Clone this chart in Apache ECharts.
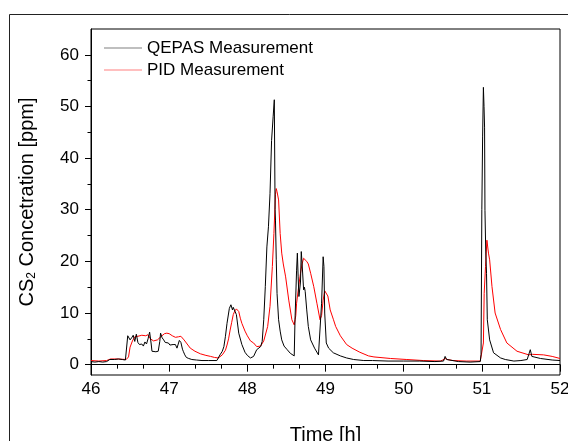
<!DOCTYPE html>
<html>
<head>
<meta charset="utf-8">
<script src="https://cdn.jsdelivr.net/npm/echarts@6/dist/echarts.min.js"></script>
<style>
html,body{margin:0;padding:0;background:#fff;}
#chart{width:568px;height:441px;}
</style>
</head>
<body>
<div id="chart"></div>
<script>
// ---- data ----
var seriesNames = ['QEPAS Measurement', 'PID Measurement'];

var qepasTime = [46.00,46.05,46.10,46.15,46.20,46.24,46.30,46.35,46.40,46.44,46.46,46.47,46.50,46.52,46.54,46.56,46.58,46.60,46.62,46.65,46.67,46.69,46.71,46.73,46.75,46.77,46.78,46.80,46.83,46.86,46.88,46.89,46.91,46.93,46.95,46.97,46.99,47.01,47.03,47.05,47.08,47.10,47.12,47.13,47.15,47.17,47.18,47.20,47.22,47.25,47.29,47.35,47.42,47.50,47.61,47.65,47.68,47.70,47.72,47.74,47.77,47.79,47.81,47.82,47.84,47.86,47.89,47.93,47.97,48.00,48.04,48.06,48.08,48.12,48.14,48.17,48.19,48.21,48.23,48.25,48.27,48.29,48.31,48.33,48.345,48.355,48.36,48.37,48.38,48.40,48.42,48.44,48.47,48.51,48.55,48.57,48.60,48.61,48.63,48.64,48.65,48.66,48.68,48.69,48.70,48.72,48.73,48.74,48.75,48.76,48.78,48.81,48.86,48.91,48.93,48.95,48.97,48.98,48.99,49.01,49.04,49.10,49.19,49.27,49.36,49.49,49.60,49.80,50.00,50.20,50.40,50.51,50.53,50.55,50.70,50.85,50.98,50.99,51.00,51.01,51.02,51.028,51.035,51.04,51.05,51.06,51.07,51.10,51.15,51.24,51.30,51.41,51.50,51.58,51.60,51.62,51.64,51.75,51.90,52.00];
var qepasValue = [0.6,0.5,0.6,0.5,0.6,1.0,1.0,1.1,1.0,0.9,0.8,5.6,4.8,5.2,5.7,4.5,5.9,4.3,3.9,4.0,3.6,4.4,4.0,5.0,6.3,4.0,2.6,2.3,2.5,2.6,4.5,6.1,5.2,4.8,4.3,4.5,4.2,3.8,3.5,3.9,3.9,3.2,3.2,4.7,4.3,3.0,2.6,1.9,1.4,1.2,1.0,0.9,0.8,0.8,0.8,1.9,2.6,3.5,5.5,8.0,10.9,11.6,10.6,11.1,10.8,9.7,6.1,3.9,2.4,1.8,1.3,1.3,1.6,2.9,2.8,3.5,4.5,8.7,15.1,22.8,26.7,33.1,43.4,48.0,51.3,30.0,28.0,20.3,13.8,8.7,6.5,4.8,3.6,2.9,2.2,1.9,1.7,8.7,18.3,21.6,17.0,13.2,16.0,21.9,19.7,14.5,15.0,14.2,13.9,10.6,7.4,4.8,3.2,1.9,1.6,11.9,20.9,19.0,10.0,4.2,3.2,2.3,1.7,1.3,1.0,0.8,0.8,0.7,0.7,0.7,0.6,0.7,1.6,1.0,0.6,0.5,0.6,2.0,30.0,44.1,53.7,50.0,46.0,29.9,22.0,17.7,8.7,4.8,2.3,1.3,1.0,0.7,0.8,1.0,1.3,2.9,1.6,1.2,0.9,0.8];

var pidTime = [46.00,46.10,46.20,46.25,46.35,46.45,46.48,46.50,46.53,46.56,46.60,46.65,46.70,46.73,46.76,46.80,46.85,46.90,46.94,46.97,47.00,47.04,47.08,47.12,47.15,47.19,47.23,47.27,47.33,47.40,47.47,47.53,47.58,47.63,47.68,47.72,47.74,47.76,47.78,47.80,47.82,47.84,47.86,47.89,47.91,47.93,47.97,48.00,48.04,48.08,48.12,48.17,48.21,48.23,48.26,48.29,48.32,48.34,48.36,48.37,48.38,48.40,48.42,48.44,48.46,48.49,48.53,48.57,48.60,48.62,48.63,48.66,48.68,48.70,48.72,48.74,48.76,48.78,48.81,48.85,48.89,48.93,48.95,48.97,48.99,49.00,49.03,49.06,49.10,49.13,49.19,49.27,49.34,49.44,49.55,49.62,49.83,50.04,50.25,50.47,50.50,50.53,50.56,50.63,50.80,50.98,51.00,51.02,51.03,51.047,51.065,51.085,51.10,51.13,51.17,51.24,51.32,51.45,51.60,51.62,51.65,51.79,51.90,52.00];
var pidValue = [0.8,0.7,0.8,1.1,1.1,1.0,1.5,3.4,4.6,5.4,5.5,5.7,5.6,5.8,5.0,4.6,4.8,5.5,6.0,6.1,6.0,5.6,5.3,5.4,5.5,4.8,4.0,3.2,2.6,2.1,1.8,1.6,1.4,1.3,1.9,2.8,3.8,5.0,6.7,8.2,9.7,10.4,10.8,10.3,9.0,8.0,6.5,5.6,4.6,4.2,3.5,3.6,4.6,4.8,7.4,11.3,19.0,25.4,33.0,34.1,33.5,31.9,25.4,21.6,19.5,17.0,12.5,8.7,7.7,9.5,11.9,15.5,17.7,19.5,20.6,20.5,20.0,19.5,17.7,15.1,11.9,8.7,9.5,12.5,14.3,14.5,13.3,10.6,8.8,7.4,5.6,3.9,3.2,2.4,1.7,1.5,1.2,1.0,0.8,0.7,0.9,1.2,1.0,0.8,0.7,0.7,1.0,4.2,13.8,19.0,24.1,21.6,20.3,15.1,10.0,6.8,4.2,2.6,1.9,2.2,2.0,1.9,1.6,1.2];

var xTickLabels = [46, 47, 48, 49, 50, 51, 52];
var yTickLabels = [0, 10, 20, 30, 40, 50, 60];
var yMinorTicks = [5, 15, 25, 35, 45, 55];

function zip(a, b) { return a.map(function (t, i) { return [t, b[i]]; }); }

var FONT = '"Liberation Sans", Arial, sans-serif';
var LINE_ICON = 'path://M0,0 L100,0 L100,1 L0,1 Z';
var chart = echarts.init(document.getElementById('chart'), null, {renderer: 'canvas'});

chart.setOption({
  animation: false,
  backgroundColor: '#fff',
  textStyle: {fontFamily: FONT},
  graphic: [{
    type: 'rect',
    silent: true,
    shape: {x: 9.5, y: 14.5, width: 700, height: 600},
    style: {fill: 'none', stroke: '#222', lineWidth: 1}
  }],
  grid: {left: 91, right: 8, top: 29, bottom: 66, containLabel: false, outerBoundsMode: 'none',
    show: true, borderColor: '#000', borderWidth: 1, backgroundColor: 'transparent'},
  legend: {
    orient: 'vertical', left: 99, top: 34,
    itemWidth: 38, itemHeight: 1, itemGap: 4,
    data: [{name: seriesNames[0], icon: LINE_ICON}, {name: seriesNames[1], icon: LINE_ICON}],
    textStyle: {fontSize: 17, color: '#000', fontFamily: FONT, lineHeight: 18}
  },
  xAxis: {
    type: 'value', min: xTickLabels[0], max: xTickLabels[xTickLabels.length - 1], interval: 1,
    axisLine: {show: true, lineStyle: {color: '#000', width: 1}},
    axisTick: {show: true, length: 7, lineStyle: {color: '#000'}},
    minorTick: {show: true, splitNumber: 3, length: 4, lineStyle: {color: '#000'}},
    splitLine: {show: false},
    axisLabel: {fontSize: 17, color: '#000', margin: 6, fontFamily: FONT},
    name: 'Time [h]', nameLocation: 'middle', nameGap: 50,
    nameTextStyle: {fontSize: 20, color: '#000', fontFamily: FONT}
  },
  yAxis: [{
    type: 'value', min: -2, max: 65, position: 'left',
    axisLine: {show: true, lineStyle: {color: '#000', width: 1}},
    axisTick: {show: true, length: 6, customValues: yTickLabels, lineStyle: {color: '#000'}},
    axisLabel: {fontSize: 17, color: '#000', margin: 12, customValues: yTickLabels, fontFamily: FONT},
    splitLine: {show: false},
    name: 'CS{s|2} Concetration [ppm]', nameLocation: 'middle', nameGap: 53,
    nameTextStyle: {fontSize: 20, color: '#000', fontFamily: FONT, lineHeight: 22,
      rich: {s: {fontSize: 12, fontFamily: FONT, color: '#000', verticalAlign: 'bottom', lineHeight: 22, padding: [12, 0, 0, 0]}}}
  }, {
    type: 'value', min: -2, max: 65, position: 'left', offset: 0,
    axisLine: {show: false},
    axisTick: {show: true, length: 3.5, customValues: yMinorTicks, lineStyle: {color: '#000'}},
    axisLabel: {show: false},
    splitLine: {show: false}
  }],
  series: [{
    name: seriesNames[1], type: 'line', symbol: 'none', z: 2,
    data: zip(pidTime, pidValue),
    lineStyle: {color: '#ff0000', width: 1}, itemStyle: {color: '#ff0000'}
  }, {
    name: seriesNames[0], type: 'line', symbol: 'none', z: 3,
    data: zip(qepasTime, qepasValue),
    lineStyle: {color: '#000000', width: 1}, itemStyle: {color: '#000000'}
  }]
});
</script>
</body>
</html>
